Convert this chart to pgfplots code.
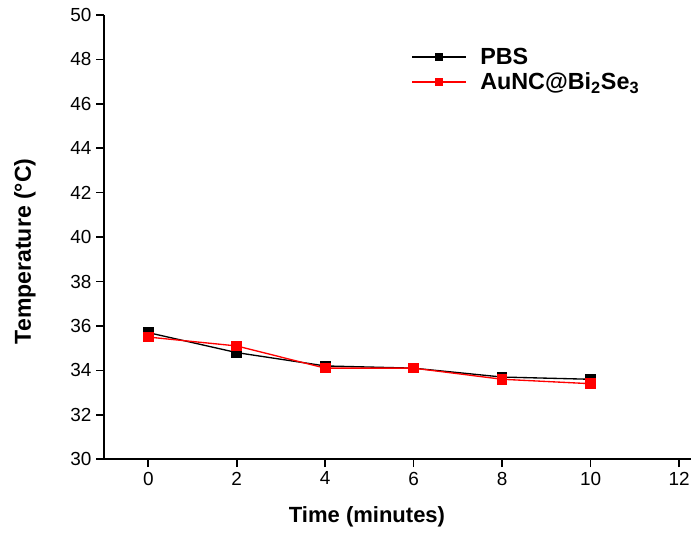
\documentclass[border=0pt]{standalone}
\usepackage{pgfplots}
\pgfplotsset{compat=1.18}
\usepackage{fontspec}
\setmainfont{Liberation Sans}
\begin{document}
\begin{tikzpicture}
\begin{axis}[
  name=ax,
  scale only axis,
  width=440pt, height=333pt,
  xmin=-1, xmax=12.27, ymin=30, ymax=50,
  xtick={0,2,...,12}, ytick={30,32,...,50},
  axis x line*=bottom, axis y line*=left,
  axis line style={line width=1.4pt, -},
  tick style={line width=1.2pt, black},
  tick align=outside,
  major tick length=6pt,
  /pgf/number format/assume math mode=true,
  tick label style={font=\fontsize{14.2}{16}\selectfont},
  xlabel={\textbf{Time (minutes)}},
  ylabel={\textbf{Temperature (°C)}},
  xlabel style={font=\fontsize{16.5}{19}\selectfont, at={(ticklabel cs:0.448)}, yshift=-9pt},
  ylabel style={font=\fontsize{17.3}{20}\selectfont, at={(ticklabel cs:0.468)}, yshift=19pt},
  legend style={draw=none, fill=none, at={(0.517,0.939)}, anchor=north west,
    font=\fontsize{17.5}{20}\selectfont\bfseries, row sep=1pt,
    legend cell align=left},
  legend image code/.code={
    \path[draw=none, fill=none] (0,0) -- (1.4cm+9pt,0);
    \draw[#1, mark size=2.7pt, mark repeat=2, mark phase=2] plot coordinates {(0cm,0cm) (0.7cm,0cm) (1.4cm,0cm)};},
  clip=false,
]
\addplot[black, line width=1pt, mark=square*, mark size=3.5pt, mark options={solid}]
  coordinates {(0,35.7) (2,34.8) (4,34.2) (6,34.1) (8,33.7) (10,33.6)};
\addlegendentry{PBS}
\addplot[red, line width=1pt, mark=square*, mark size=3.5pt, mark options={solid}]
  coordinates {(0,35.5) (2,35.1) (4,34.1) (6,34.1) (8,33.6) (10,33.4)};
\addlegendentry{AuNC@Bi\textsubscript{2}Se\textsubscript{3}}
\end{axis}
\pgfresetboundingbox
\path[use as bounding box] ([xshift=-78pt,yshift=-57.75pt]ax.south west) rectangle ([yshift=11.25pt]ax.north east);
\end{tikzpicture}
\end{document}
